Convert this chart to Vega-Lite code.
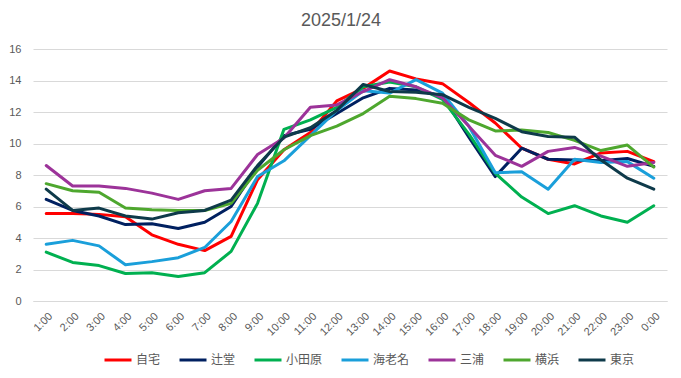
{
  "$schema": "https://vega.github.io/schema/vega-lite/v6.json",
  "width": 634,
  "height": 252,
  "autosize": {"type": "none"},
  "padding": {"left": 33, "top": 49, "right": 14, "bottom": 77},
  "background": "white",
  "title": {"text": "2025/1/24", "fontSize": 18, "font": "Liberation Sans", "fontWeight": "normal", "color": "#595959", "anchor": "middle", "offset": 13, "dx": -9},
  "data": {
    "values": [
      {"t": "1:00", "s": "自宅", "v": 5.55}, {"t": "2:00", "s": "自宅", "v": 5.55}, {"t": "3:00", "s": "自宅", "v": 5.5}, {"t": "4:00", "s": "自宅", "v": 5.35}, {"t": "5:00", "s": "自宅", "v": 4.2}, {"t": "6:00", "s": "自宅", "v": 3.6}, {"t": "7:00", "s": "自宅", "v": 3.2}, {"t": "8:00", "s": "自宅", "v": 4.1}, {"t": "9:00", "s": "自宅", "v": 7.7}, {"t": "10:00", "s": "自宅", "v": 9.6}, {"t": "11:00", "s": "自宅", "v": 10.7}, {"t": "12:00", "s": "自宅", "v": 12.7}, {"t": "13:00", "s": "自宅", "v": 13.5}, {"t": "14:00", "s": "自宅", "v": 14.6}, {"t": "15:00", "s": "自宅", "v": 14.1}, {"t": "16:00", "s": "自宅", "v": 13.8}, {"t": "17:00", "s": "自宅", "v": 12.6}, {"t": "18:00", "s": "自宅", "v": 11.3}, {"t": "19:00", "s": "自宅", "v": 9.7}, {"t": "20:00", "s": "自宅", "v": 9.0}, {"t": "21:00", "s": "自宅", "v": 8.7}, {"t": "22:00", "s": "自宅", "v": 9.4}, {"t": "23:00", "s": "自宅", "v": 9.5}, {"t": "0:00", "s": "自宅", "v": 8.85},
      {"t": "1:00", "s": "辻堂", "v": 6.45}, {"t": "2:00", "s": "辻堂", "v": 5.75}, {"t": "3:00", "s": "辻堂", "v": 5.4}, {"t": "4:00", "s": "辻堂", "v": 4.85}, {"t": "5:00", "s": "辻堂", "v": 4.9}, {"t": "6:00", "s": "辻堂", "v": 4.6}, {"t": "7:00", "s": "辻堂", "v": 5.0}, {"t": "8:00", "s": "辻堂", "v": 6.0}, {"t": "9:00", "s": "辻堂", "v": 8.5}, {"t": "10:00", "s": "辻堂", "v": 10.5}, {"t": "11:00", "s": "辻堂", "v": 10.9}, {"t": "12:00", "s": "辻堂", "v": 11.9}, {"t": "13:00", "s": "辻堂", "v": 12.9}, {"t": "14:00", "s": "辻堂", "v": 13.5}, {"t": "15:00", "s": "辻堂", "v": 13.4}, {"t": "16:00", "s": "辻堂", "v": 13.0}, {"t": "17:00", "s": "辻堂", "v": 10.4}, {"t": "18:00", "s": "辻堂", "v": 7.9}, {"t": "19:00", "s": "辻堂", "v": 9.7}, {"t": "20:00", "s": "辻堂", "v": 9.0}, {"t": "21:00", "s": "辻堂", "v": 8.95}, {"t": "22:00", "s": "辻堂", "v": 8.9}, {"t": "23:00", "s": "辻堂", "v": 9.05}, {"t": "0:00", "s": "辻堂", "v": 8.55},
      {"t": "1:00", "s": "小田原", "v": 3.1}, {"t": "2:00", "s": "小田原", "v": 2.45}, {"t": "3:00", "s": "小田原", "v": 2.25}, {"t": "4:00", "s": "小田原", "v": 1.75}, {"t": "5:00", "s": "小田原", "v": 1.8}, {"t": "6:00", "s": "小田原", "v": 1.55}, {"t": "7:00", "s": "小田原", "v": 1.8}, {"t": "8:00", "s": "小田原", "v": 3.15}, {"t": "9:00", "s": "小田原", "v": 6.2}, {"t": "10:00", "s": "小田原", "v": 10.9}, {"t": "11:00", "s": "小田原", "v": 11.5}, {"t": "12:00", "s": "小田原", "v": 12.3}, {"t": "13:00", "s": "小田原", "v": 13.6}, {"t": "14:00", "s": "小田原", "v": 13.9}, {"t": "15:00", "s": "小田原", "v": 13.6}, {"t": "16:00", "s": "小田原", "v": 12.8}, {"t": "17:00", "s": "小田原", "v": 10.6}, {"t": "18:00", "s": "小田原", "v": 8.1}, {"t": "19:00", "s": "小田原", "v": 6.6}, {"t": "20:00", "s": "小田原", "v": 5.55}, {"t": "21:00", "s": "小田原", "v": 6.05}, {"t": "22:00", "s": "小田原", "v": 5.4}, {"t": "23:00", "s": "小田原", "v": 5.0}, {"t": "0:00", "s": "小田原", "v": 6.05},
      {"t": "1:00", "s": "海老名", "v": 3.6}, {"t": "2:00", "s": "海老名", "v": 3.85}, {"t": "3:00", "s": "海老名", "v": 3.5}, {"t": "4:00", "s": "海老名", "v": 2.3}, {"t": "5:00", "s": "海老名", "v": 2.5}, {"t": "6:00", "s": "海老名", "v": 2.75}, {"t": "7:00", "s": "海老名", "v": 3.4}, {"t": "8:00", "s": "海老名", "v": 5.05}, {"t": "9:00", "s": "海老名", "v": 7.9}, {"t": "10:00", "s": "海老名", "v": 8.9}, {"t": "11:00", "s": "海老名", "v": 10.5}, {"t": "12:00", "s": "海老名", "v": 12.1}, {"t": "13:00", "s": "海老名", "v": 13.35}, {"t": "14:00", "s": "海老名", "v": 13.2}, {"t": "15:00", "s": "海老名", "v": 14.05}, {"t": "16:00", "s": "海老名", "v": 13.2}, {"t": "17:00", "s": "海老名", "v": 11.1}, {"t": "18:00", "s": "海老名", "v": 8.15}, {"t": "19:00", "s": "海老名", "v": 8.2}, {"t": "20:00", "s": "海老名", "v": 7.1}, {"t": "21:00", "s": "海老名", "v": 9.0}, {"t": "22:00", "s": "海老名", "v": 8.8}, {"t": "23:00", "s": "海老名", "v": 8.85}, {"t": "0:00", "s": "海老名", "v": 7.8},
      {"t": "1:00", "s": "三浦", "v": 8.6}, {"t": "2:00", "s": "三浦", "v": 7.3}, {"t": "3:00", "s": "三浦", "v": 7.3}, {"t": "4:00", "s": "三浦", "v": 7.15}, {"t": "5:00", "s": "三浦", "v": 6.85}, {"t": "6:00", "s": "三浦", "v": 6.45}, {"t": "7:00", "s": "三浦", "v": 7.0}, {"t": "8:00", "s": "三浦", "v": 7.15}, {"t": "9:00", "s": "三浦", "v": 9.3}, {"t": "10:00", "s": "三浦", "v": 10.35}, {"t": "11:00", "s": "三浦", "v": 12.3}, {"t": "12:00", "s": "三浦", "v": 12.45}, {"t": "13:00", "s": "三浦", "v": 13.3}, {"t": "14:00", "s": "三浦", "v": 14.05}, {"t": "15:00", "s": "三浦", "v": 13.6}, {"t": "16:00", "s": "三浦", "v": 12.9}, {"t": "17:00", "s": "三浦", "v": 11.1}, {"t": "18:00", "s": "三浦", "v": 9.25}, {"t": "19:00", "s": "三浦", "v": 8.55}, {"t": "20:00", "s": "三浦", "v": 9.5}, {"t": "21:00", "s": "三浦", "v": 9.75}, {"t": "22:00", "s": "三浦", "v": 9.2}, {"t": "23:00", "s": "三浦", "v": 8.55}, {"t": "0:00", "s": "三浦", "v": 8.8},
      {"t": "1:00", "s": "横浜", "v": 7.45}, {"t": "2:00", "s": "横浜", "v": 7.0}, {"t": "3:00", "s": "横浜", "v": 6.9}, {"t": "4:00", "s": "横浜", "v": 5.9}, {"t": "5:00", "s": "横浜", "v": 5.8}, {"t": "6:00", "s": "横浜", "v": 5.75}, {"t": "7:00", "s": "横浜", "v": 5.75}, {"t": "8:00", "s": "横浜", "v": 6.2}, {"t": "9:00", "s": "横浜", "v": 8.3}, {"t": "10:00", "s": "横浜", "v": 9.6}, {"t": "11:00", "s": "横浜", "v": 10.5}, {"t": "12:00", "s": "横浜", "v": 11.1}, {"t": "13:00", "s": "横浜", "v": 11.9}, {"t": "14:00", "s": "横浜", "v": 13.0}, {"t": "15:00", "s": "横浜", "v": 12.85}, {"t": "16:00", "s": "横浜", "v": 12.55}, {"t": "17:00", "s": "横浜", "v": 11.5}, {"t": "18:00", "s": "横浜", "v": 10.8}, {"t": "19:00", "s": "横浜", "v": 10.85}, {"t": "20:00", "s": "横浜", "v": 10.7}, {"t": "21:00", "s": "横浜", "v": 10.2}, {"t": "22:00", "s": "横浜", "v": 9.55}, {"t": "23:00", "s": "横浜", "v": 9.9}, {"t": "0:00", "s": "横浜", "v": 8.5},
      {"t": "1:00", "s": "東京", "v": 7.1}, {"t": "2:00", "s": "東京", "v": 5.75}, {"t": "3:00", "s": "東京", "v": 5.9}, {"t": "4:00", "s": "東京", "v": 5.4}, {"t": "5:00", "s": "東京", "v": 5.2}, {"t": "6:00", "s": "東京", "v": 5.6}, {"t": "7:00", "s": "東京", "v": 5.75}, {"t": "8:00", "s": "東京", "v": 6.4}, {"t": "9:00", "s": "東京", "v": 8.6}, {"t": "10:00", "s": "東京", "v": 10.4}, {"t": "11:00", "s": "東京", "v": 11.0}, {"t": "12:00", "s": "東京", "v": 12.1}, {"t": "13:00", "s": "東京", "v": 13.75}, {"t": "14:00", "s": "東京", "v": 13.3}, {"t": "15:00", "s": "東京", "v": 13.25}, {"t": "16:00", "s": "東京", "v": 13.1}, {"t": "17:00", "s": "東京", "v": 12.3}, {"t": "18:00", "s": "東京", "v": 11.6}, {"t": "19:00", "s": "東京", "v": 10.75}, {"t": "20:00", "s": "東京", "v": 10.45}, {"t": "21:00", "s": "東京", "v": 10.4}, {"t": "22:00", "s": "東京", "v": 8.95}, {"t": "23:00", "s": "東京", "v": 7.8}, {"t": "0:00", "s": "東京", "v": 7.1}
    ]
  },
  "mark": {"type": "line", "strokeWidth": 3, "strokeCap": "round", "strokeJoin": "round"},
  "encoding": {
    "x": {
      "field": "t", "type": "ordinal",
      "sort": ["1:00","2:00","3:00","4:00","5:00","6:00","7:00","8:00","9:00","10:00","11:00","12:00","13:00","14:00","15:00","16:00","17:00","18:00","19:00","20:00","21:00","22:00","23:00","0:00"],
      "scale": {"type": "point", "padding": 0.5},
      "axis": {"title": null, "labelAngle": -45, "labelFontSize": 11, "labelFont": "Liberation Sans", "labelColor": "#595959", "ticks": false, "domainColor": "#D9D9D9", "domainWidth": 1, "labelPadding": 9, "grid": false}
    },
    "y": {
      "field": "v", "type": "quantitative",
      "scale": {"domain": [0, 16], "nice": false},
      "axis": {"title": null, "values": [0,2,4,6,8,10,12,14,16], "labelFontSize": 11, "labelFont": "Liberation Sans", "labelColor": "#595959", "ticks": false, "domain": false, "gridColor": "#D9D9D9", "gridWidth": 1, "labelPadding": 12}
    },
    "color": {
      "field": "s", "type": "nominal",
      "scale": {"domain": ["自宅","辻堂","小田原","海老名","三浦","横浜","東京"], "range": ["#FF0000","#002060","#00B050","#1A9FDA","#9C3399","#4EA72E","#0E3A4A"]},
      "legend": {"title": null, "orient": "none", "legendX": 70, "legendY": 296, "direction": "horizontal", "symbolType": "stroke", "symbolStrokeWidth": 3, "symbolSize": 729, "labelFont": "Noto Sans CJK JP", "labelFontSize": 12, "labelColor": "#595959", "labelOffset": 3, "columnPadding": 12}
    }
  },
  "config": {"view": {"stroke": null}}
}
